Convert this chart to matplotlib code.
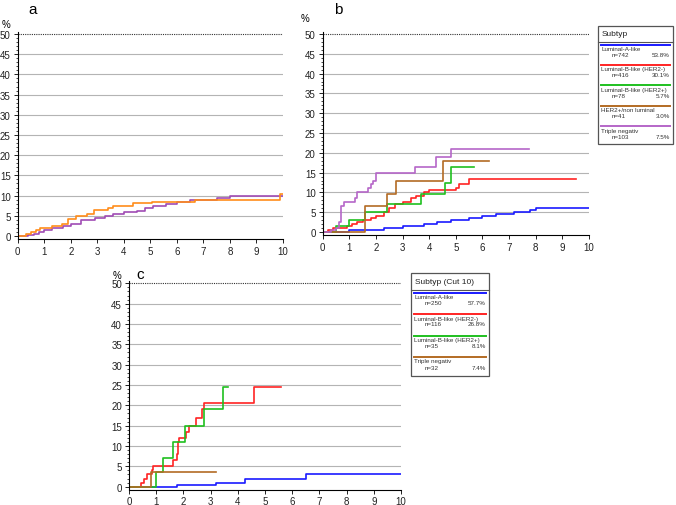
import matplotlib.pyplot as plt
import matplotlib.patches as patches
from matplotlib.ticker import MultipleLocator

plt.rcParams['font.family'] = ['Liberation Sans', 'DejaVu Sans']

ORANGE = '#ff8c1a'
PURPLE = '#a04cb4'
PURPLE_L = '#b566c8'
BLUE = '#1a1aff'
RED = '#ff2424'
GREEN = '#1fc01f'
BROWN = '#b36b24'

# --- panel a ---
a_orange_t = [0, 0.3, 0.5, 0.7, 0.84, 1.3, 1.66, 1.9, 2.2, 2.6, 2.86, 3.4, 3.6, 4.36, 5.06, 6.5, 6.7, 9.9, 10.0]
a_orange_v = [0, 0.5, 1.0, 1.5, 2.0, 2.5, 3.0, 4.3, 5.0, 5.5, 6.5, 7.0, 7.5, 8.2, 8.5, 8.5, 9.0, 10.5, 10.5]
a_purple_t = [0, 0.4, 0.6, 0.8, 1.0, 1.3, 1.7, 2.0, 2.4, 2.9, 3.3, 3.6, 4.0, 4.5, 4.8, 5.1, 5.6, 6.0, 6.5, 7.0, 7.5, 8.0, 10.0]
a_purple_v = [0, 0.3, 0.6, 1.0, 1.5, 2.0, 2.5, 3.0, 4.0, 4.5, 5.0, 5.5, 6.0, 6.2, 7.0, 7.5, 8.0, 8.5, 8.8, 9.0, 9.3, 10.0, 10.0]

# --- panel b ---
b_blue_t = [0, 1.0, 2.3, 3.0, 3.8, 4.3, 4.8, 5.5, 6.0, 6.5, 7.2, 7.8, 8.0, 10.0]
b_blue_v = [0, 0.5, 1.0, 1.5, 2.0, 2.5, 3.0, 3.5, 4.0, 4.5, 5.0, 5.5, 6.0, 6.0]
b_red_t = [0, 0.2, 0.4, 0.9, 1.1, 1.3, 1.5, 1.8, 2.0, 2.3, 2.5, 2.7, 3.0, 3.3, 3.5, 3.8, 4.0, 5.0, 5.1, 5.5, 9.5]
b_red_v = [0, 0.5, 1.0, 1.5, 2.0, 2.5, 3.0, 3.5, 4.0, 5.0, 6.0, 7.0, 7.5, 8.5, 9.0, 10.0, 10.5, 11.0, 12.0, 13.5, 13.5]
b_green_t = [0, 0.5, 1.0, 1.6, 2.4, 3.7, 4.6, 4.8, 5.7]
b_green_v = [0, 1.5, 3.0, 5.0, 7.0, 9.5, 12.5, 16.5, 16.5]
b_brown_t = [0, 1.6, 2.4, 2.75, 4.5, 6.25]
b_brown_v = [0, 6.5, 9.5, 13.0, 18.0, 18.0]
b_purple_t = [0, 0.3, 0.5, 0.6, 0.7, 0.8, 1.2, 1.3, 1.7, 1.8, 1.9, 2.0, 3.45, 4.25, 4.8, 7.75]
b_purple_v = [0, 0.5, 1.0, 2.5, 6.5, 7.5, 8.5, 10.0, 11.0, 12.0, 13.0, 15.0, 16.5, 19.0, 21.0, 21.0]

# --- panel c ---
c_blue_t = [0, 1.75, 3.2, 4.25, 6.5, 10.0]
c_blue_v = [0, 0.5, 1.0, 2.0, 3.0, 3.0]
c_red_t = [0, 0.45, 0.55, 0.65, 0.85, 0.9, 1.6, 1.75, 1.8, 1.85, 2.1, 2.2, 2.45, 2.7, 2.75, 4.6, 5.6]
c_red_v = [0, 1.0, 2.0, 3.0, 4.0, 5.0, 6.5, 8.0, 11.0, 12.0, 13.5, 15.0, 17.0, 19.0, 20.5, 24.5, 24.5]
c_green_t = [0, 1.0, 1.25, 1.6, 2.05, 2.75, 3.45, 3.65]
c_green_v = [0, 3.5, 7.0, 11.0, 15.0, 19.0, 24.5, 24.5]
c_brown_t = [0, 0.8, 3.2]
c_brown_v = [0, 3.5, 3.5]

# legends
b_names = ['Luminal-A-like', 'Luminal-B-like (HER2-)', 'Luminal-B-like (HER2+)', 'HER2+/non luminal', 'Triple negativ']
b_n = ['n=742', 'n=416', 'n=78', 'n=41', 'n=103']
b_pct = ['53.8%', '30.1%', '5.7%', '3.0%', '7.5%']
b_cols = [BLUE, RED, GREEN, BROWN, PURPLE_L]
c_names = ['Luminal-A-like', 'Luminal-B-like (HER2-)', 'Luminal-B-like (HER2+)', 'Triple negativ']
c_n = ['n=250', 'n=116', 'n=35', 'n=32']
c_pct = ['57.7%', '26.8%', '8.1%', '7.4%']
c_cols = [BLUE, RED, GREEN, BROWN]

W, H = 676, 506
fig = plt.figure(figsize=(W / 100, H / 100), dpi=100)


def frac(x0, y0, x1, y1):
    return [x0 / W, 1 - y1 / H, (x1 - x0) / W, (y1 - y0) / H]


def style_axes(ax):
    ax.set_xlim(0, 10)
    ax.set_ylim(-0.7, 50.5)
    for s in ['top', 'right']:
        ax.spines[s].set_visible(False)
    for s in ['left', 'bottom']:
        ax.spines[s].set_linewidth(0.8)
    ax.set_xticks(range(0, 11))
    ax.set_yticks(range(0, 51, 5))
    ax.yaxis.set_minor_locator(MultipleLocator(1))
    ax.tick_params(labelsize=7, length=3, width=0.7, pad=2, colors='#222222')
    ax.tick_params(which='minor', length=1.5, width=0.5)
    for y in range(5, 50, 5):
        ax.axhline(y, color='#b4b4b4', lw=0.8, zorder=0)
    ax.axhline(50, color='#333333', lw=0.8, ls=(0, (1, 1)), zorder=0)


ax_a = fig.add_axes(frac(17.7, 33, 283, 239.8))
style_axes(ax_a)
ax_a.step(a_purple_t, a_purple_v, where='post', color=PURPLE, lw=1.2)
ax_a.step(a_orange_t, a_orange_v, where='post', color=ORANGE, lw=1.2)
fig.text(33 / W, 1 - 10 / H, 'a', fontsize=11, ha='center', va='center')
fig.text(6 / W, 1 - 25 / H, '%', fontsize=7, ha='center', va='center')

ax_b = fig.add_axes(frac(322.7, 33, 589, 235.8))
style_axes(ax_b)
ax_b.step(b_blue_t, b_blue_v, where='post', color=BLUE, lw=1.2)
ax_b.step(b_red_t, b_red_v, where='post', color=RED, lw=1.2)
ax_b.step(b_green_t, b_green_v, where='post', color=GREEN, lw=1.2)
ax_b.step(b_brown_t, b_brown_v, where='post', color=BROWN, lw=1.2)
ax_b.step(b_purple_t, b_purple_v, where='post', color=PURPLE_L, lw=1.2)
fig.text(338 / W, 1 - 10 / H, 'b', fontsize=11, ha='center', va='center')
fig.text(305 / W, 1 - 19 / H, '%', fontsize=7, ha='center', va='center')

ax_c = fig.add_axes(frac(129, 282.3, 401, 490.5))
style_axes(ax_c)
ax_c.step(c_blue_t, c_blue_v, where='post', color=BLUE, lw=1.2)
ax_c.step(c_red_t, c_red_v, where='post', color=RED, lw=1.2)
ax_c.step(c_green_t, c_green_v, where='post', color=GREEN, lw=1.2)
ax_c.step(c_brown_t, c_brown_v, where='post', color=BROWN, lw=1.2)
fig.text(140 / W, 1 - 275 / H, 'c', fontsize=11, ha='center', va='center')
fig.text(117 / W, 1 - 276 / H, '%', fontsize=7, ha='center', va='center')


def legend_box(x0, y0, x1, y1, head_h, title, names, ns, pcts, cols):
    ax = fig.add_axes(frac(x0, y0, x1, y1))
    w = x1 - x0
    h = y1 - y0
    ax.set_xlim(0, w)
    ax.set_ylim(h, 0)
    ax.axis('off')
    ax.add_patch(patches.Rectangle((0, 0), w, h, fill=False, edgecolor='#555555',
                                   lw=0.9, clip_on=False))
    ax.plot([0, w], [head_h, head_h], color='#555555', lw=0.8, clip_on=False)
    ax.text(4, head_h / 2, title, fontsize=6, va='center', ha='left', color='#222222')
    step = (h - head_h) / len(names)
    for i, (nm, n, p, c) in enumerate(zip(names, ns, pcts, cols)):
        top = head_h + i * step
        ax.plot([3, w - 3], [top + 2.5, top + 2.5], color=c, lw=1.4)
        ax.text(3, top + 6.5, nm, fontsize=4.5, va='center', ha='left', color='#333333')
        ax.text(14, top + 12.5, n, fontsize=4.5, va='center', ha='left', color='#333333')
        ax.text(w - 3, top + 12.5, p, fontsize=4.5, va='center', ha='right', color='#333333')


legend_box(598, 27, 673, 145, 16, 'Subtyp', b_names, b_n, b_pct, b_cols)
legend_box(411, 274, 489, 377, 17, 'Subtyp (Cut 10)', c_names, c_n, c_pct, c_cols)

plt.savefig('out.png', dpi=100, facecolor='white')
plt.close()
